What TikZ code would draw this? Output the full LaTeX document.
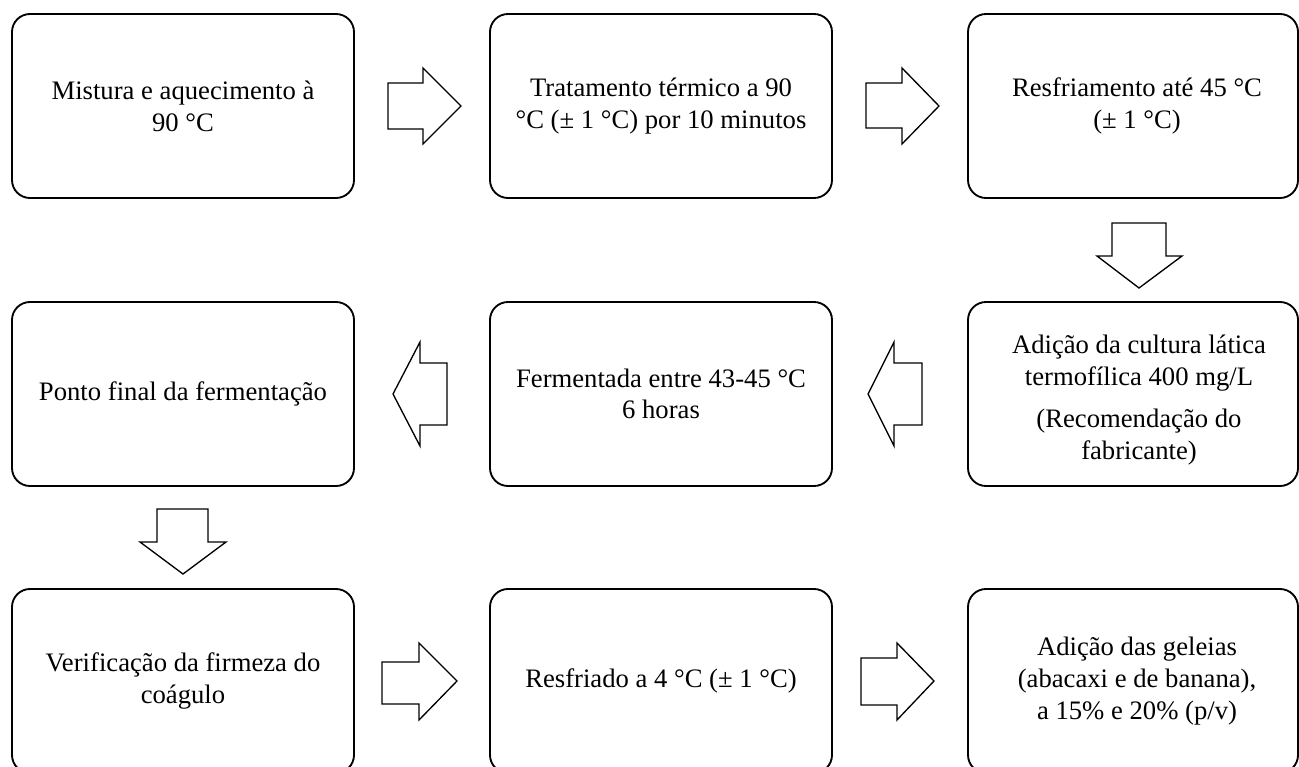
\documentclass[tikz,border=0pt]{standalone}
\usepackage{fontspec}
\setmainfont{Liberation Serif}
\begin{document}
\begin{tikzpicture}[x=0.75pt,y=-0.75pt,
 box/.style={draw, line width=1.4pt, rounded corners=13.5pt, minimum width=256.5pt, minimum height=138pt, inner sep=0pt, outer sep=0pt},
 narrowbox/.style={box, minimum width=247.5pt},
 txt/.style={align=center, inner sep=0pt, font=\fontsize{20}{23.8}\selectfont},
 barrow/.style={draw, line width=1pt, line join=miter, fill=white}]
\useasboundingbox (0,0) rectangle (1299,767);
\clip (0,0) rectangle (1299,767);
% row 1
\node[box] (b1) at (183,106) {};
\node[txt] (t1) at (b1.center) {Mistura e aquecimento à\\90 °C};
\node[box] (b2) at (661,106) {};
\node[txt] (t2) at (b2.center) {Tratamento térmico a 90\\°C (± 1 °C) por 10 minutos};
\node[narrowbox] (b3) at (1133,106) {};
\node[txt] (t3) at (1137,106) {Resfriamento até 45 °C\\(± 1 °C)};
% row 2
\node[narrowbox] (b4) at (1133,394) {};
\node[txt] (t4) at (1139,400) {Adição da cultura lática\\termofílica 400 mg/L\\[7.5pt](Recomendação do\\fabricante)};
\node[box] (b5) at (661,394) {};
\node[txt] (t5) at (b5.center) {Fermentada entre 43-45 °C\\6 horas};
\node[box] (b6) at (183,394) {};
\node[txt] (t6) at (b6.center) {Ponto final da fermentação};
% row 3
\node[box] (b7) at (183,681) {};
\node[txt] (t7) at (b7.center) {Verificação da firmeza do\\coágulo};
\node[box] (b8) at (661,681) {};
\node[txt] (t8) at (b8.center) {Resfriado a 4 °C (± 1 °C)};
\node[narrowbox] (b9) at (1133,681) {};
\node[txt] (t9) at (1137,681) {Adição das geleias\\(abacaxi e de banana),\\a 15\% e 20\% (p/v)};
% block arrows
\draw[barrow] (388,83) -- (423,83) -- (423,68) -- (461,106) -- (423,144) -- (423,129) -- (388,129) -- cycle;
\draw[barrow] (866,83) -- (902,83) -- (902,68) -- (939,106) -- (902,144) -- (902,128) -- (866,128) -- cycle;
\draw[barrow] (1112,223) -- (1166,223) -- (1166,256) -- (1182,256) -- (1139,288) -- (1097,256) -- (1112,256) -- cycle;
\draw[barrow] (922,363) -- (894,363) -- (894,342) -- (868,394) -- (894,446) -- (894,425) -- (922,425) -- cycle;
\draw[barrow] (447,363) -- (420,363) -- (420,342) -- (393,394) -- (420,446) -- (420,425) -- (447,425) -- cycle;
\draw[barrow] (157,509) -- (208,509) -- (208,542) -- (226,542) -- (183,574) -- (140,542) -- (157,542) -- cycle;
\draw[barrow] (382,662) -- (419,662) -- (419,643) -- (457,681) -- (419,720) -- (419,704) -- (382,704) -- cycle;
\draw[barrow] (861,658) -- (897,658) -- (897,643) -- (934,681) -- (897,720) -- (897,705) -- (861,705) -- cycle;
\end{tikzpicture}
\end{document}
